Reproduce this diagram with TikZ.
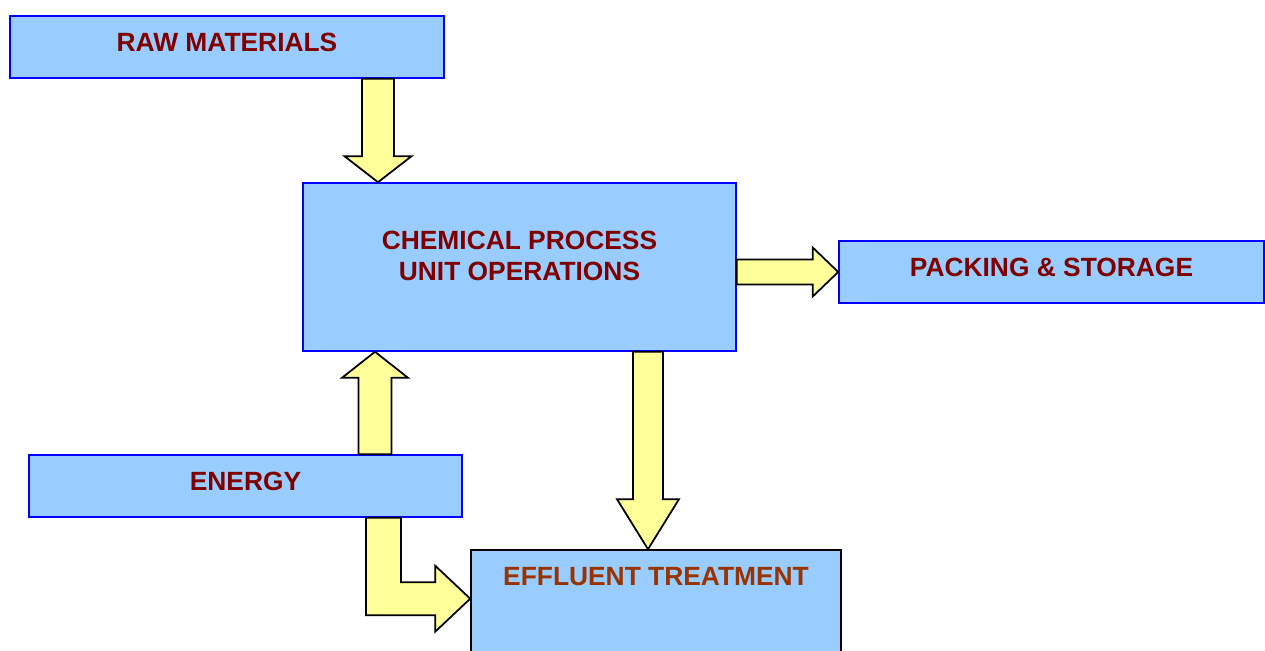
\documentclass[tikz,border=0pt]{standalone}
\usepackage{fontspec}
\setmainfont{Liberation Sans}
\usetikzlibrary{calc}
\definecolor{boxfill}{HTML}{99CCFF}
\definecolor{boxline}{HTML}{0000FF}
\definecolor{arrowfill}{HTML}{FFFF99}
\definecolor{darkred}{HTML}{800000}
\definecolor{rust}{HTML}{993300}

% vertical block arrow: start, end, shaft half width, head half width, head length
\newcommand{\blockv}[5]{%
  \draw[blockarrow] let \p1=(#1), \p2=(#2) in
    (\x1-#3,\y1) -- (\x1+#3,\y1) -- (\x1+#3,\y2+#5) -- (\x1+#4,\y2+#5)
    -- (\x1,\y2) -- (\x1-#4,\y2+#5) -- (\x1-#3,\y2+#5) -- cycle;}

\begin{document}
\begin{tikzpicture}[
    box/.style={draw=boxline,fill=boxfill,line width=0.9pt,inner sep=0pt,
      text=darkred,font=\fontsize{15}{17.6}\selectfont\bfseries,text depth=0.18cm},
    blockarrow/.style={draw=black,fill=arrowfill,line width=1pt,line join=miter}]
        \useasboundingbox (0,0) rectangle (25.3,-13.02);
        % Boxes
        \node[box,minimum width=8.68cm,minimum height=1.24cm] (raw) at (4.54,-0.94) {RAW MATERIALS};
        \node[box,minimum width=8.66cm,minimum height=3.36cm,
          label={[anchor=center,yshift=0.22cm,align=center,text=darkred,
            font=\fontsize{15}{17.6}\selectfont\bfseries]center:CHEMICAL PROCESS\\UNIT OPERATIONS}] (chem) at (10.39,-5.34) {};
        \node[box,minimum width=8.5cm,minimum height=1.24cm] (pack) at (21.03,-5.44) {PACKING \& STORAGE};
        \node[box,minimum width=8.66cm,minimum height=1.24cm] (energy) at (4.91,-9.72) {ENERGY};
        \node[box,draw=black,minimum width=7.4cm,minimum height=3.4cm,
          label={[anchor=center,yshift=-0.54cm,text=rust,
            font=\fontsize{15}{17.6}\selectfont\bfseries]north:EFFLUENT TREATMENT}] (effl) at (13.12,-12.7) {};
        % Arrows
        \blockv{[xshift=3.02cm]raw.south}{chem.north}{0.32cm}{0.67cm}{0.52cm}
        \blockv{[xshift=2.59cm]energy.north}{chem.south}{0.33cm}{0.66cm}{-0.52cm}
        \blockv{[xshift=2.57cm]chem.south}{effl.north}{0.3cm}{0.62cm}{1.0cm}
        \draw[blockarrow] let \p1=(chem.east |- pack.west), \p2=(pack.west) in
          (\x1,\y1+0.25cm) -- (\x2-0.51cm,\y1+0.25cm) -- (\x2-0.51cm,\y1+0.49cm) -- (\x2,\y2)
          -- (\x2-0.51cm,\y1-0.49cm) -- (\x2-0.51cm,\y1-0.25cm) -- (\x1,\y1-0.25cm) -- cycle;
        \draw[blockarrow] let \p1=([xshift=2.76cm]energy.south), \p2=([yshift=-0.99cm]effl.north west) in
          (\x1-0.35cm,\y1) -- (\x1+0.35cm,\y1) -- (\x1+0.35cm,\y2+0.33cm) -- (\x2-0.7cm,\y2+0.33cm)
          -- (\x2-0.7cm,\y2+0.66cm) -- (\x2,\y2) -- (\x2-0.7cm,\y2-0.66cm) -- (\x2-0.7cm,\y2-0.33cm)
          -- (\x1-0.35cm,\y2-0.33cm) -- cycle;
    \end{tikzpicture}
\end{document}
